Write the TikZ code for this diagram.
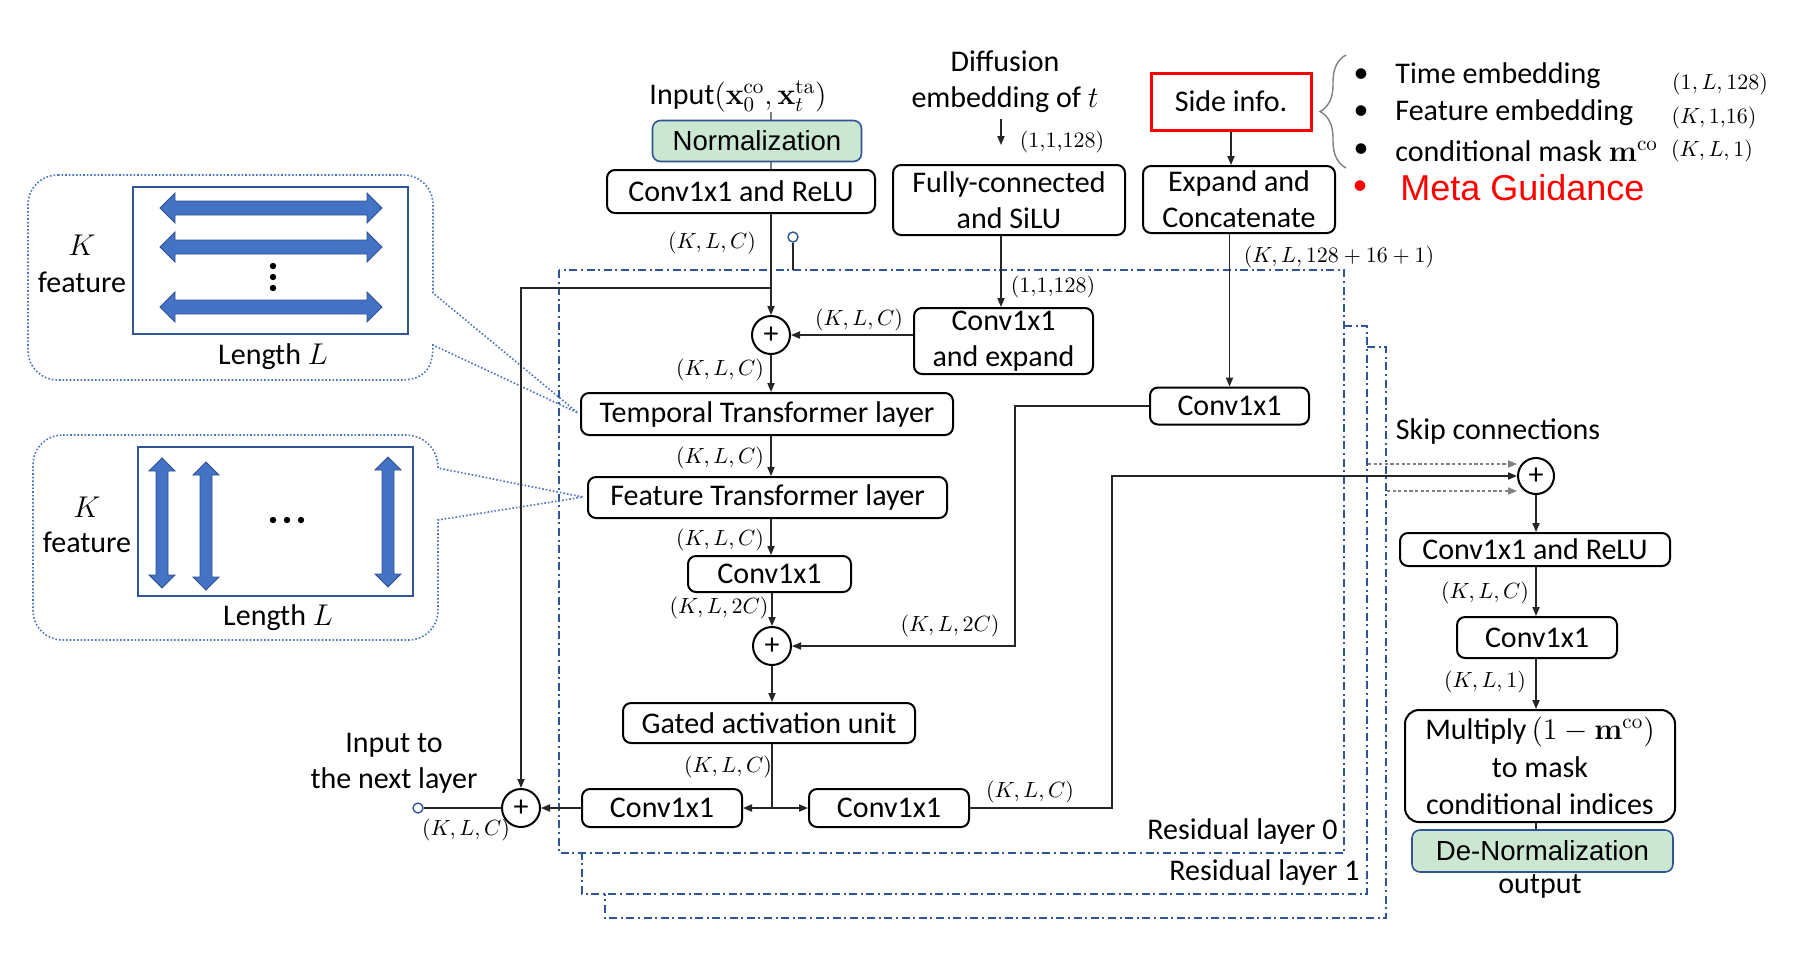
\documentclass[tikz,border=0pt]{standalone}
\usepackage{fix-cm}
\usepackage[no-math]{fontspec}
\setmainfont{Carlito}
\newfontfamily\arialfam{Liberation Sans}
\usetikzlibrary{arrows.meta,decorations.pathreplacing,calc}
\definecolor{dblue}{HTML}{2F5597}
\definecolor{cblue}{HTML}{4A72BE}
\definecolor{afill}{HTML}{4472C4}
\definecolor{aedge}{HTML}{2F528F}
\definecolor{ngreen}{HTML}{CBE7D1}
\definecolor{bracegray}{HTML}{808080}
\definecolor{connc}{HTML}{262626}
\newcommand{\dmfont}{\fontsize{15}{18}\selectfont}
\newcommand{\dlfont}{\fontsize{11}{13}\selectfont}
\newcommand{\dafont}{\arialfam\fontsize{13.8}{16}\selectfont}
\newcommand{\hdarrow}[3]{\filldraw[bigarrow] (#1,#3) -- (#1+15,#3-15) -- (#1+15,#3-7) -- (#2-15,#3-7) -- (#2-15,#3-15) -- (#2,#3) -- (#2-15,#3+15) -- (#2-15,#3+7) -- (#1+15,#3+7) -- (#1+15,#3+15) -- cycle;}
\newcommand{\vdarrow}[3]{\filldraw[bigarrow] (#1,#2) -- (#1+13,#2+13) -- (#1+6,#2+13) -- (#1+6,#3-13) -- (#1+13,#3-13) -- (#1,#3) -- (#1-13,#3-13) -- (#1-6,#3-13) -- (#1-6,#2+13) -- (#1-13,#2+13) -- cycle;}
\tikzset{
  box/.style={draw=black, line width=1pt, rounded corners=4pt, inner sep=0pt, align=center, font=\dmfont, fill=white},
  greenbox/.style={draw=dblue, line width=0.8pt, rounded corners=4pt, inner sep=0pt, fill=ngreen, font=\dafont},
  sidebox/.style={draw=red, line width=1.5pt, inner sep=0pt, font=\dmfont},
  plusc/.style={circle, draw=black, line width=1pt, minimum size=19pt, inner sep=0pt, font=\dmfont, fill=white},
  smallc/.style={circle, draw=dblue, line width=0.7pt, fill=white, minimum size=5pt, inner sep=0pt},
  txt/.style={inner sep=0pt, font=\dmfont, align=center},
  lab/.style={inner sep=0pt, font=\dlfont},
  conn/.style={draw=connc, line width=0.65pt},
  arr/.style={conn, -{Triangle[length=4.5pt,width=3.6pt]}},
  darr/.style={draw=gray, line width=0.6pt, dash pattern=on 1.6pt off 1.2pt, -{Triangle[length=4.5pt,width=3.6pt]}},
  resid/.style={draw=dblue, line width=0.8pt, dash pattern=on 4pt off 1.8pt on 1pt off 1.8pt},
  callout/.style={draw=cblue, line width=0.8pt, densely dotted},
  innerrect/.style={draw=dblue, line width=0.8pt},
  bigarrow/.style={fill=afill, draw=aedge, line width=0.4pt},
  dotf/.style={fill=black},
}
\begin{document}
\begin{tikzpicture}[x=0.5pt,y=-0.5pt]
\useasboundingbox (0,0) rectangle (1807,955);

% residual layer frames
\draw[resid] (559,270) rectangle (1344,853);
\draw[resid] (1344,326) -- (1367,326) -- (1367,894) -- (582,894) -- (582,853);
\draw[resid] (1367,347) -- (1386,347) -- (1386,918) -- (605,918) -- (605,894);

% callouts
\draw[callout] (58,175) -- (403,175) .. controls (420,175) and (433,188) .. (433,205) -- (433,293) -- (578,413) -- (433,345) .. controls (433,368) and (425,380) .. (400,380) -- (58,380) .. controls (41,380) and (28,367) .. (28,350) -- (28,205) .. controls (28,188) and (41,175) .. (58,175) -- cycle;
\draw[callout] (63,435) -- (405,435) .. controls (425,435) and (438,450) .. (438,468) -- (583,497) -- (438,520) -- (438,610) .. controls (438,627) and (425,640) .. (408,640) -- (63,640) .. controls (46,640) and (33,627) .. (33,610) -- (33,465) .. controls (33,448) and (46,435) .. (63,435) -- cycle;

\draw[innerrect] (133,187) rectangle (408,334);
\hdarrow{160}{382}{208}
\hdarrow{160}{382}{247}
\hdarrow{160}{382}{307}
\fill[dotf] (273,266) circle (3.2);
\fill[dotf] (273,277) circle (3.2);
\fill[dotf] (273,288) circle (3.2);
\node[txt] (k1) at (82,245) {$K$};
\node[txt] (f1) at (82,282) {feature};
\node[txt] (l1) at (273,357) {Length $L$};

\draw[innerrect] (138,447) rectangle (413,596);
\vdarrow{162}{458}{588}
\vdarrow{206}{462}{590}
\vdarrow{388}{457}{587}
\fill[dotf] (273,520) circle (3.2);
\fill[dotf] (287,520) circle (3.2);
\fill[dotf] (301,520) circle (3.2);
\node[txt] (k2) at (87,507) {$K$};
\node[txt] (f2) at (87,542) {feature};
\node[txt] (l2) at (278,618) {Length $L$};

% top inputs
\node[txt] (inp) at (738,96) {Input$(\mathbf{x}_0^{\mathrm{co}},\mathbf{x}_t^{\mathrm{ta}})$};
\node[box, minimum width=134pt, minimum height=21.5pt] (convrelu) at (741,191.5) {Conv1x1 and ReLU};
\node[plusc] (plus1) at (771,335) {+};
\draw[conn, draw=gray] (inp.south -| plus1) -- (convrelu.north -| plus1);
\node[greenbox, minimum width=104.5pt, minimum height=20.5pt] (norm) at (757,141) {Normalization};

\node[txt] (diff) at (1005,82) {Diffusion\\embedding of $t$};
\coordinate (dA) at (1001,119);
\coordinate (dB) at (1001,145);
\draw[arr] (dA) -- (dB);
\node[lab] (l128a) at (1062,142) {$(1{,}1{,}128)$};
\node[box, minimum width=116pt, minimum height=35pt] (fc) at (1009,200) {Fully-connected\\and SiLU};

\node[sidebox, minimum width=80pt, minimum height=28.5pt] (side) at (1231,101.5) {Side info.};
\node[box, minimum width=96pt, minimum height=33.5pt] (expand) at (1239,199.5) {Expand and\\Concatenate};
\draw[draw=bracegray, line width=0.7pt, decorate, decoration={brace, amplitude=13pt}] (1346,168) -- (1346,55);

\node[txt] (b1) at (1361,76) {\textbullet};
\node[txt] (b2) at (1361,113) {\textbullet};
\node[txt] (b3) at (1361,151) {\textbullet};
\node[txt, anchor=west] (t1) at (1395,76) {Time embedding};
\node[txt, anchor=west] (t2) at (1395,113) {Feature embedding};
\node[txt, anchor=west] (t3) at (1395,151) {conditional mask $\mathbf{m}^{\mathrm{co}}$};
\node[lab] (s1l) at (1720,84) {$(1,L,128)$};
\node[lab] (s2l) at (1714,118) {$(K,1{,}16)$};
\node[lab] (s3l) at (1712,151) {$(K,L,1)$};
\node[txt, text=red] (b4) at (1360,188) {\textbullet};
\node[inner sep=0pt, anchor=west, text=red, font={\arialfam\fontsize{18}{21}\selectfont}] (meta) at (1400,188) {Meta Guidance};

% residual block
\node[box, minimum width=89.5pt, minimum height=33pt] (convexp) at (1003.5,341) {Conv1x1\\and expand};
\node[box, minimum width=186pt, minimum height=21pt] (temporal) at (767,414) {Temporal Transformer layer};
\node[box, minimum width=179.5pt, minimum height=20.5pt] (feature) at (767.5,497.5) {Feature Transformer layer};
\node[box, minimum width=81.5pt, minimum height=18pt] (convmid) at (769.5,574) {Conv1x1};
\node[plusc] (plus2) at (772,646) {+};
\node[box, minimum width=79.5pt, minimum height=18.5pt] (convside) at (1229.5,406) {Conv1x1};
\node[box, minimum width=146pt, minimum height=20pt] (gated) at (769,723) {Gated activation unit};
\node[box, minimum width=80pt, minimum height=19pt] (convbl) at (662,808) {Conv1x1};
\node[box, minimum width=80pt, minimum height=19pt] (convbr) at (889,808) {Conv1x1};
\node[plusc] (plus3) at (521,808) {+};
\node[smallc] (oc) at (418,808) {};
\node[smallc] (tc) at (793,237) {};
\coordinate (tcb) at (793,270);

\node[txt] (nextl) at (394,763) {Input to\\the next layer};
\node[txt, anchor=east] (res0) at (1338,831) {Residual layer 0};
\node[txt, anchor=east] (res1) at (1360,872) {Residual layer 1};

% output head
\node[txt] (skipt) at (1498,431) {Skip connections};
\node[plusc, minimum size=18pt] (skipplus) at (1536,476) {+};
\node[box, minimum width=135pt, minimum height=16.5pt] (convrelu2) at (1535,549.5) {Conv1x1 and ReLU};
\node[box, minimum width=80pt, minimum height=20.5pt] (conv2) at (1537,637.5) {Conv1x1};
\node[box, rounded corners=7pt, minimum width=135pt, minimum height=56pt, font=\fontsize{15}{18.75}\selectfont] (multiply) at (1540,766) {Multiply\,$(1-\mathbf{m}^{\mathrm{co}})$\\to mask\\conditional indices};
\node[greenbox, minimum width=130.5pt, minimum height=21pt] (denorm) at (1542.5,851) {De-Normalization};
\node[txt] (outt) at (1540,886) {output};

% connectors
\draw[arr] (convrelu.south -| plus1) -- (plus1.north);
\node[lab] at (712,243) {$(K,L,C)$};
\coordinate (br) at (771,288);
\draw[arr] (br) -| (plus3.north);
\draw[conn] (tc.south) -- (tcb);
\draw[arr] ([xshift=-4pt]fc.south) -- ([xshift=-4pt]fc.south |- convexp.north);
\node[lab] at (1053,287) {$(1{,}1{,}128)$};
\draw[arr] (convexp.west |- plus1) -- (plus1.east);
\node[lab] at (859,320) {$(K,L,C)$};
\draw[arr] (plus1.south) -- (temporal.north -| plus1);
\node[lab] at (720,370) {$(K,L,C)$};
\draw[arr] (temporal.south -| plus1) -- (feature.north -| plus1);
\node[lab] at (720,458) {$(K,L,C)$};
\draw[arr] (feature.south -| plus1) -- (convmid.north -| plus1);
\node[lab] at (720,540) {$(K,L,C)$};
\draw[arr] (convmid.south -| plus2) -- (plus2.north);
\node[lab] at (719,608) {$(K,L,2C)$};
\draw[arr] (side.south) -- (side.south |- expand.north);
\draw[arr] (convside.north |- expand.south) -- (convside.north);
\node[lab] at (1339,257) {$(K,L,128+16+1)$};
\draw[arr] (convside.west) -- ++(-134,0) |- (plus2.east);
\node[lab] at (950,626) {$(K,L,2C)$};
\draw[arr] (plus2.south) -- (gated.north -| plus2);
\draw[conn] (gated.south -| plus2) -- (plus2 |- convbl) coordinate (split);
\draw[arr] (split) -- (convbl.east);
\draw[arr] (split) -- (convbr.west);
\node[lab] at (728,767) {$(K,L,C)$};
\draw[arr] (convbl.west) -- (plus3.east);
\draw[conn] (plus3.west) -- (oc.east);
\node[lab] at (466,830) {$(K,L,C)$};
\draw[arr] (convbr.east) -- ++(142,0) |- (skipplus.west);
\node[lab] at (1030,792) {$(K,L,C)$};
\coordinate (sk1) at (1368,464);
\coordinate (sk2) at (1387,491);
\draw[darr] (sk1) -- (sk1 -| skipplus.west);
\draw[darr] (sk2) -- (sk2 -| skipplus.west);
\draw[arr] (skipplus.south) -- (convrelu2.north -| skipplus);
\draw[arr] (convrelu2.south -| skipplus) -- (conv2.north -| skipplus);
\node[lab] at (1485,593) {$(K,L,C)$};
\draw[arr] (conv2.south -| skipplus) -- (multiply.north -| skipplus);
\node[lab] at (1485,682) {$(K,L,1)$};
\draw[conn] (multiply.south -| skipplus) -- (denorm.north -| skipplus);
\end{tikzpicture}
\end{document}
